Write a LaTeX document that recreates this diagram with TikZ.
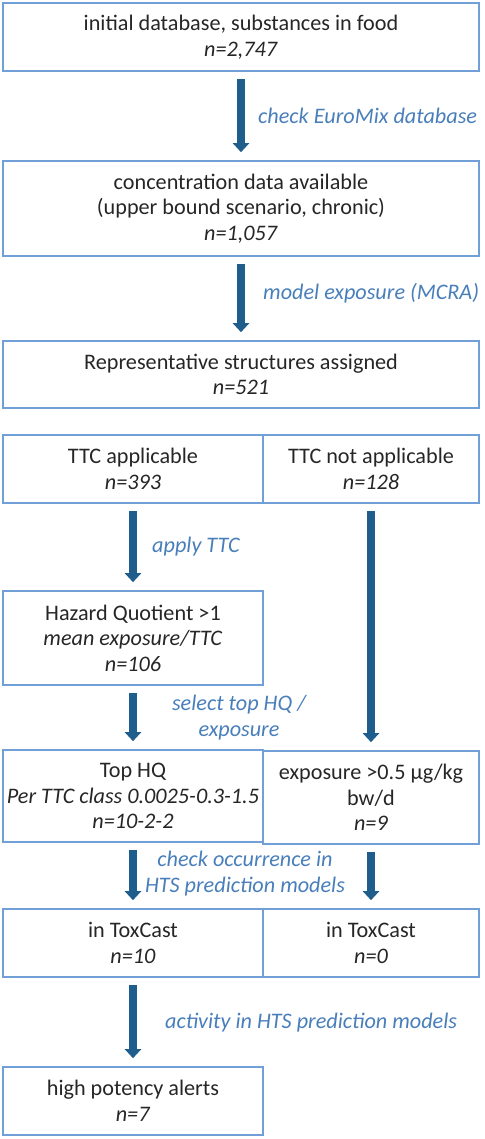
\documentclass[tikz,border=0pt]{standalone}
\usepackage{fontspec}
\setmainfont{Carlito}
\usetikzlibrary{arrows.meta}
\definecolor{boxblue}{RGB}{112,160,215}
\definecolor{arrowblue}{RGB}{31,94,140}
\definecolor{lblblue}{RGB}{72,126,186}
\definecolor{txtgray}{RGB}{38,38,38}
\begin{document}
\begin{tikzpicture}[x=1pt,y=-1pt,
  box/.style={draw=boxblue,line width=1.6pt,align=center,inner sep=0pt,
    text=txtgray,font=\fontsize{22.2}{25.5}\selectfont},
  fat/.style={draw=arrowblue,line width=8pt,-{Triangle[width=16pt,length=9pt]},
    shorten <=7pt,shorten >=8pt},
  lbl/.style={text=lblblue,inner sep=0pt,align=center,
    font=\fontsize{22.2}{26}\selectfont\itshape}]
\useasboundingbox (0,0) rectangle (484,1139);
% ================ full-width steps ================
\node[box,minimum width=476pt,minimum height=68pt] (init) at (241,37)
  {initial database, substances in food\\ \textit{n=2,747}};
\node[box,minimum width=476pt,minimum height=95pt] (conc) at (241,208.5)
  {concentration data available\\ (upper bound scenario, chronic)\\ \textit{n=1,057}};
\node[box,minimum width=476pt,minimum height=67pt] (repr) at (241,374.5)
  {Representative structures assigned\\ \textit{n=521}};
% ================ TTC split ================
\node[box,minimum width=260pt,minimum height=68pt] (ttcA) at (133,469)
  {TTC applicable\\ \textit{n=393}};
\node[box,minimum width=216pt,minimum height=68pt] (ttcN) at (371,469)
  {TTC not applicable\\ \textit{n=128}};
\node[box,minimum width=260pt,minimum height=94pt] (hq) at (133,638)
  {Hazard Quotient >1\\ \textit{mean exposure/TTC}\\ \textit{n=106}};
% top HQ / high exposure
\node[box,minimum width=260pt,minimum height=92pt] (top) at (133,796)
  {Top HQ\\ \textit{Per TTC class 0.0025-0.3-1.5}\\ \textit{n=10-2-2}};
\node[box,minimum width=216pt,minimum height=93pt] (expo) at (371,797.5)
  {exposure >0.5 µg/kg\\ bw/d\\ \textit{n=9}};
% ToxCast
\node[box,minimum width=260pt,minimum height=68pt] (toxL) at (133,943)
  {in ToxCast\\ \textit{n=10}};
\node[box,minimum width=216pt,minimum height=68pt] (toxR) at (371,943)
  {in ToxCast\\ \textit{n=0}};
\node[box,minimum width=260pt,minimum height=68pt] (alert) at (133,1101)
  {high potency alerts\\ \textit{n=7}};
% ================ arrows ================
\draw[fat] (init.south) -- (conc.north);
\draw[fat] (conc.south) -- (repr.north);
\draw[fat] (ttcA.south) -- (hq.north);
\draw[fat] (hq.south) -- (top.north);
\draw[fat] (ttcN.south) -- (expo.north);
\draw[fat] (top.south) -- (toxL.north);
\draw[fat] (expo.south) -- (toxR.north);
\draw[fat] (toxL.south) -- (alert.north);
% ================ step labels ================
\node[lbl,anchor=west] (lEuro) at (258,116) {check EuroMix database};
\node[lbl,anchor=west] (lMcra) at (263,293) {model exposure (MCRA)};
\node[lbl,anchor=west] (lTtc) at (152,547) {apply TTC};
\node[lbl] (lSel) at (239,718) {select top HQ /\\ exposure};
\node[lbl] (lOcc) at (245,874) {check occurrence in\\ HTS prediction models};
\node[lbl,anchor=west] (lAct) at (165,1023) {activity in HTS prediction models};
\end{tikzpicture}
\end{document}
